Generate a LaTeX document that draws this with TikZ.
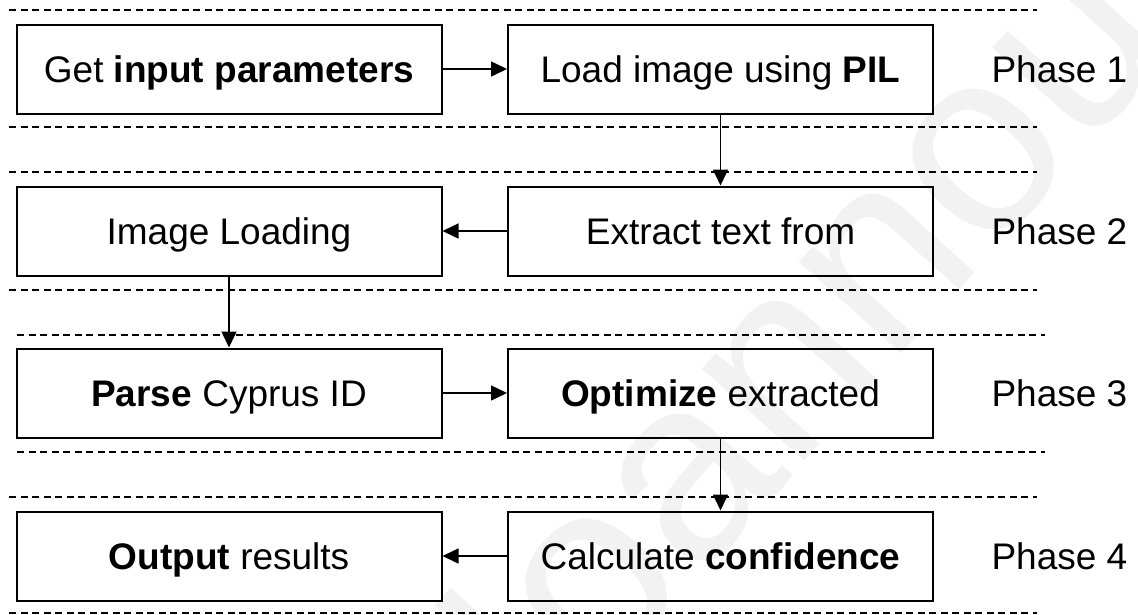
\documentclass[tikz,border=0pt]{standalone}
\usepackage{fontspec}
\setmainfont{Liberation Sans}
\usetikzlibrary{arrows.meta}
\definecolor{markgray}{RGB}{242,242,242}

\begin{document}
\begin{tikzpicture}[x=1pt, y=-1pt, font=\fontsize{37}{44}\selectfont,
  stage/.style={draw, line width=2pt, minimum width=425pt, minimum height=89pt, inner sep=0pt,
    text height=26pt, text depth=0pt},
  lane/.style={dash pattern=on 7pt off 4.5pt, line width=1.3pt},
  flow/.style={-{Triangle[length=16pt,width=15pt]}, line width=1.5pt}]
  \useasboundingbox (0,0) rectangle (1138,614);
  \begin{scope}
    \clip (0,0) rectangle (1138,614);
    \node[markgray, rotate=48, font=\fontsize{260}{260}\selectfont] (mark) at (800,335) {Ioannou};
  \end{scope}
  % phase lanes
  \foreach \ya/\yb/\xa in {10/127/9, 172/290/9, 335/452/17, 497/613/9} {
    \draw[lane] (\xa,\ya) -- ++(1028,0);
    \draw[lane] (\xa,\yb) -- ++(1028,0);
  }
  \node[stage] (params) at (229,69) {Get \textbf{input parameters}};
  \node[stage] (load) at (720.5,69) {Load image using \textbf{PIL}};
  \node[stage] (loading) at (229,231) {Image Loading};
  \node[stage] (extract) at (720.5,231) {Extract text from};
  \node[stage] (parse) at (229,393) {\textbf{Parse} Cyprus ID};
  \node[stage] (optimize) at (720.5,393) {\textbf{Optimize} extracted};
  \node[stage] (output) at (229,556) {\textbf{Output} results};
  \node[stage] (confidence) at (720.5,556) {Calculate \textbf{confidence}};
  \foreach \n/\y in {1/69, 2/231, 3/393, 4/556}
    \node[anchor=west, text height=26pt, text depth=0pt] (phase\n) at (988,\y) {Phase \n};
  % flow
  \draw[flow] (params) -- (load);
  \draw[flow] (load) -- (extract);
  \draw[flow] (extract) -- (loading);
  \draw[flow] (loading) -- (parse);
  \draw[flow] (parse) -- (optimize);
  \draw[flow] (optimize) -- (confidence);
  \draw[flow] (confidence) -- (output);
\end{tikzpicture}
\end{document}
